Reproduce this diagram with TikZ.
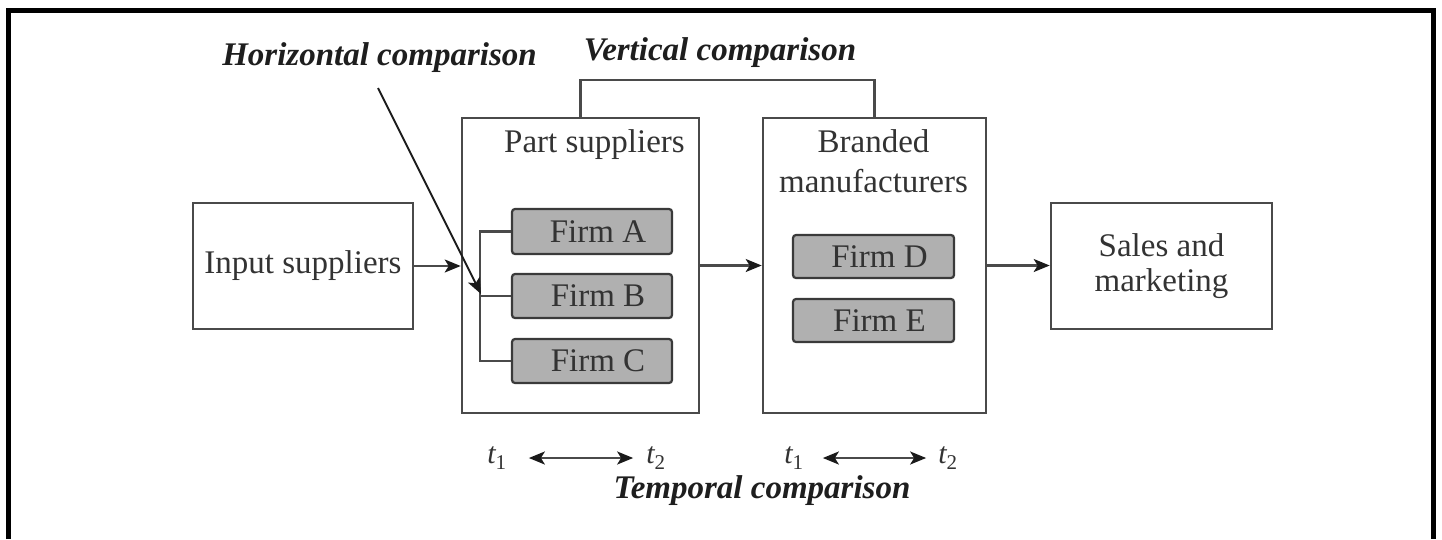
\documentclass[tikz,border=0pt]{standalone}
\usepackage{fontspec}
\setmainfont{Liberation Serif}
\usetikzlibrary{arrows.meta}
\definecolor{boxline}{HTML}{4A4A4A}
\definecolor{firmfill}{HTML}{B0B0B0}
\definecolor{firmline}{HTML}{3A3A3A}
\definecolor{txt}{HTML}{333333}
\definecolor{lbl}{HTML}{1E1E1E}
\definecolor{tipcol}{HTML}{1A1A1A}
\tikzset{
  stagebox/.style={draw=boxline, line width=2.6pt, rectangle, inner sep=0pt, fill=white},
  firmbox/.style={draw=firmline, line width=2.2pt, rectangle, rounded corners=3pt, fill=firmfill, inner sep=0pt,
    minimum width=160pt, minimum height=44pt, font=\fontsize{33}{35}\selectfont, text=txt},
  boxtext/.style={font=\fontsize{33}{35}\selectfont, text=txt, inner sep=0pt, anchor=base},
  cmplabel/.style={font=\fontsize{33}{35}\selectfont\bfseries\itshape, text=lbl, inner sep=0pt, anchor=base},
  tlabel/.style={font=\fontsize{30}{32}\selectfont\itshape, text=txt, inner sep=0pt},
  conn/.style={draw=boxline, line width=2.2pt},
  arr/.style={conn, -{Stealth[length=16pt, width=13pt, inset=4pt, color=tipcol]}},
  dblarr/.style={conn, {Stealth[length=16pt, width=13pt, inset=4pt, color=tipcol]}-{Stealth[length=16pt, width=13pt, inset=4pt, color=tipcol]}},
  frame/.style={draw=black, line width=5pt}
}
\begin{document}
\begin{tikzpicture}[x=1pt, y=-1pt]
\useasboundingbox (0,0) rectangle (1442,539);
\fill[white] (0,0) rectangle (1442,539);
% outer frame (open at the bottom)
\coordinate (fbl) at (8,539);
\coordinate (ftl) at (8,10);
\coordinate (ftr) at (1433,10);
\coordinate (fbr) at (1433,539);
\draw[frame] (fbl) -- (ftl) -- (ftr) -- (fbr);

% stage boxes
\node[stagebox, minimum width=220pt, minimum height=126pt, font=\fontsize{33}{35}\selectfont, text=txt] (input) at (303,266) {Input suppliers};
\node[stagebox, minimum width=237pt, minimum height=295pt] (part) at (580.5,265.5) {};
\node[stagebox, minimum width=223pt, minimum height=295pt] (branded) at (874.5,265.5) {};
\node[stagebox, minimum width=221pt, minimum height=126pt, font=\fontsize{33}{35}\selectfont, text=txt, align=center] (sales) at (1161.5,266) {Sales and\\marketing};

% box titles
\node[boxtext] (parttitle) at (594.5,152) {Part suppliers};
\node[boxtext] (brandtitle1) at (873.5,152) {Branded};
\node[boxtext] (brandtitle2) at (873.5,192) {manufacturers};

% firms
\node[firmbox, minimum height=45pt] (firmA) at (592,231.5) {\hspace*{12pt}Firm A};
\node[firmbox] (firmB) at (592,296) {\hspace*{12pt}Firm B};
\node[firmbox] (firmC) at (592,361) {\hspace*{12pt}Firm C};
\node[firmbox, minimum width=161pt, minimum height=43pt] (firmD) at (873.5,256.5) {\hspace*{12pt}Firm D};
\node[firmbox, minimum width=161pt, minimum height=43pt] (firmE) at (873.5,320.5) {\hspace*{12pt}Firm E};

% bracket joining firms A-C
\draw[conn] (firmA.west) -- ++(-31,0) |- (firmC.west);
\draw[conn] (firmB.west) -- ++(-31,0);

% flow arrows
\draw[arr] (input.east) -- (input.east -| part.west);
\draw[arr] (part.east) -- (part.east -| branded.west);
\draw[arr] (branded.east) -- (branded.east -| sales.west);

% vertical comparison bracket
\draw[conn] (part.north) -- ++(0,-37) -| (branded.north);

% comparison labels
\node[cmplabel] (hcomp) at (379.5,65) {Horizontal comparison};
\node[cmplabel] (vcomp) at (720,60) {Vertical comparison};
\node[cmplabel] (tcomp) at (762,498) {Temporal comparison};

% horizontal comparison pointer
\coordinate (hstart) at (378,88);
\coordinate (htip) at (481,294);
\draw[arr, line width=1.8pt, draw=tipcol] (hstart) -- (htip);

% temporal markers
\node[tlabel] (ta1) at (497,458) {t\textsubscript{\upshape 1}};
\node[tlabel] (ta2) at (656,458) {t\textsubscript{\upshape 2}};
\node[tlabel] (tb1) at (794,458) {t\textsubscript{\upshape 1}};
\node[tlabel] (tb2) at (948,458) {t\textsubscript{\upshape 2}};
\draw[dblarr, shorten <=22pt, shorten >=13pt] (ta1) -- (ta2);
\draw[dblarr, shorten <=19pt, shorten >=12pt] (tb1) -- (tb2);
\end{tikzpicture}
\end{document}
